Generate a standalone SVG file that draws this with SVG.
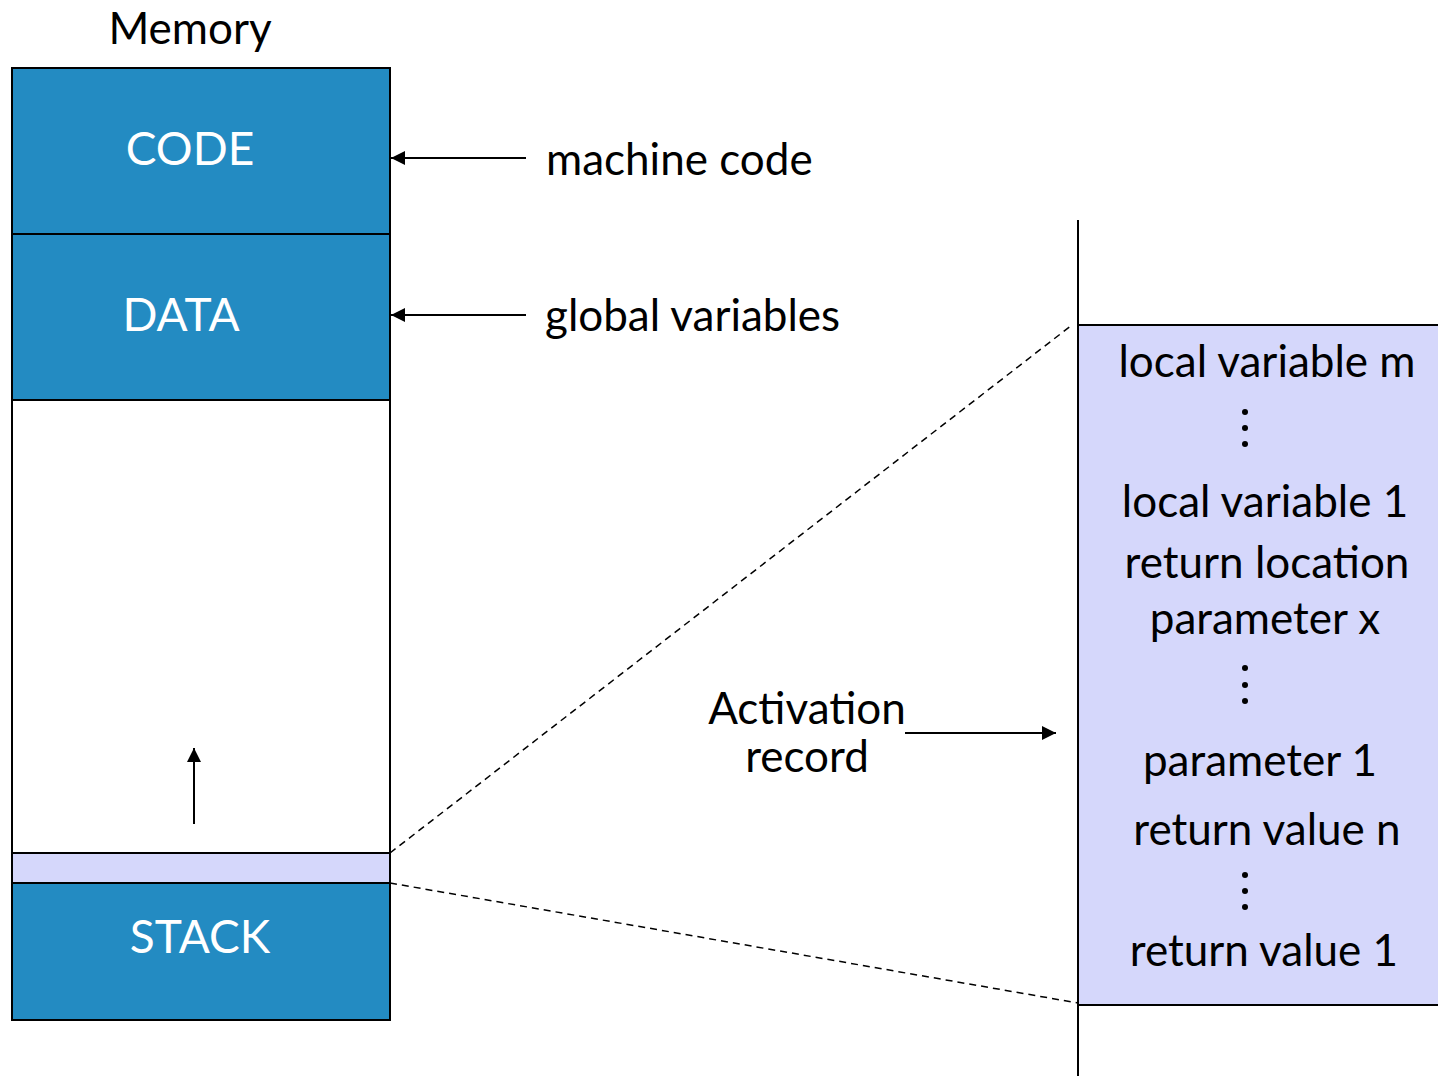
<svg xmlns="http://www.w3.org/2000/svg" width="1438" height="1076" viewBox="0 0 1438 1076">
<defs>
<style>
.t{font-family:Lato,"Open Sans","Liberation Sans",sans-serif;font-size:44px;fill:#000}
.w{fill:#fff;font-size:46px}
.blue{fill:#238BC2;stroke:#000;stroke-width:2}
.pur{fill:#D5D7FB;stroke:#000;stroke-width:2}
.ln{stroke:#000;stroke-width:2;fill:none}
.dash{stroke:#000;stroke-width:1.5;fill:none;stroke-dasharray:7 5}
</style>
<marker id="ah" viewBox="0 0 10 10" refX="10" refY="5" markerWidth="15" markerHeight="14" markerUnits="userSpaceOnUse" orient="auto">
<path d="M0,0 L10,5 L0,10 z" fill="#000"/>
</marker>
</defs>
<rect width="1438" height="1076" fill="#fff"/>
<g id="memory">
<text class="t" x="190" y="44" text-anchor="middle">Memory</text>
<rect x="12" y="68" width="378" height="952" fill="#fff" stroke="#000" stroke-width="2"/>
</g>
<g id="code">
<rect class="blue" x="12" y="68" width="378" height="166"/>
<text class="t w" x="190" y="165" text-anchor="middle">CODE</text>
</g>
<g id="data">
<rect class="blue" x="12" y="234" width="378" height="166"/>
<text class="t w" x="181" y="331" text-anchor="middle">DATA</text>
</g>
<g id="frame">
<rect class="pur" x="12" y="853" width="378" height="30"/>
</g>
<g id="stack">
<rect class="blue" x="12" y="883" width="378" height="137"/>
<text class="t w" x="200" y="953" text-anchor="middle">STACK</text>
</g>
<g id="labels">
<text class="t" x="546" y="175">machine code</text>
<text class="t" x="545" y="331">global variables</text>
<text class="t" x="807" y="724" text-anchor="middle">Activation</text>
<text class="t" x="807" y="772" text-anchor="middle">record</text>
</g>
<g id="record">
<line class="ln" x1="1078" y1="220" x2="1078" y2="1076"/>
<rect class="pur" x="1078" y="325" width="370" height="680"/>
<g class="t" text-anchor="middle">
<text x="1267" y="377">local variable m</text>
<text x="1265" y="517">local variable 1</text>
<text x="1267" y="578">return location</text>
<text x="1265" y="634">parameter x</text>
<text x="1260" y="776">parameter 1</text>
<text x="1267" y="845">return value n</text>
<text x="1264" y="966">return value 1</text>
</g>
<g fill="#000">
<circle cx="1245" cy="412" r="3"/><circle cx="1245" cy="428" r="3"/><circle cx="1245" cy="444" r="3"/>
<circle cx="1245" cy="668" r="3"/><circle cx="1245" cy="685" r="3"/><circle cx="1245" cy="701" r="3"/>
<circle cx="1245" cy="875" r="3"/><circle cx="1245" cy="891" r="3"/><circle cx="1245" cy="907" r="3"/>
</g>
</g>
<g id="connectors">
<line class="ln" x1="526" y1="158" x2="391" y2="158" marker-end="url(#ah)"/>
<line class="ln" x1="526" y1="315" x2="391" y2="315" marker-end="url(#ah)"/>
<line class="ln" x1="194" y1="824" x2="194" y2="748" marker-end="url(#ah)"/>
<line class="ln" x1="905" y1="733" x2="1056" y2="733" marker-end="url(#ah)"/>
<line class="dash" x1="390" y1="853" x2="1072" y2="325"/>
<line class="dash" x1="390" y1="883" x2="1078" y2="1003"/>
</g>
</svg>
